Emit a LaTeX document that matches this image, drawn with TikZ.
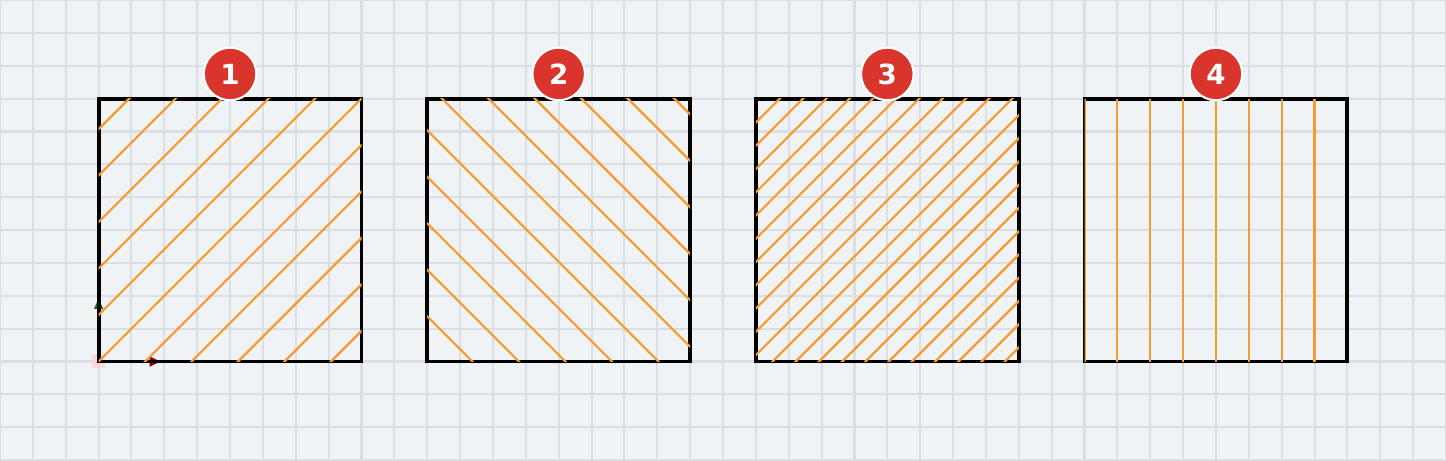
\documentclass[tikz,border=0pt]{standalone}
\usepackage{fontspec}
\newfontfamily\badgefont{DejaVu Sans}
\usetikzlibrary{positioning}

\definecolor{canvas}{RGB}{240,243,246}
\definecolor{gridgray}{RGB}{219,222,228}
\definecolor{hatchorange}{RGB}{246,155,45}
\definecolor{badgered}{RGB}{217,53,45}

\tikzset{
  gridline/.style={gridgray, line width=0.9pt},
  tile/.style={draw=black, line width=1.7pt, minimum size=4cm, inner sep=0pt, outer sep=0pt},
  hatch/.style={hatchorange, line width=0.95pt},
  badge/.style={circle, fill=badgered, draw=white, line width=0.9pt, minimum size=0.8cm,
                inner sep=0pt, text=white, font=\badgefont\bfseries\fontsize{12}{12}\selectfont}
}

\begin{document}
\begin{tikzpicture}[x=0.5cm, y=0.5cm]
  \useasboundingbox (0,0) rectangle (44,14);
  \fill[canvas] (0,0) rectangle (44,14);
  \draw[gridline, step=0.5cm] (0,0) grid (44,14);

  % origin marks of the editor
  \fill[pink!70!white, opacity=0.8] (2.8,2.8) rectangle (3.2,3.2);
  \fill[green!45!black] (2.86,4.6) -- (3.14,4.6) -- (3,4.92) -- cycle;
  \fill[red!55!black] (4.55,2.84) -- (4.55,3.16) -- (4.88,3) -- cycle;

  % the four tiles
  \node[tile] (sq1) at (7,7) {};
  \node[tile] (sq2) at (17,7) {};
  \node[tile] (sq3) at (27,7) {};
  \node[tile] (sq4) at (37,7) {};

  % 1: rising lines, wide
  \begin{scope}
    \clip (sq1.south west) rectangle (sq1.north east);
    \foreach \k in {-5,...,5}
      \draw[hatch] ([shift={(-1,{1.4142*\k-1})}]sq1.south west) -- ++(10,10);
  \end{scope}

  % 2: falling lines, wide
  \begin{scope}
    \clip (sq2.south west) rectangle (sq2.north east);
    \foreach \k in {-5,...,5}
      \draw[hatch] ([shift={(-1,{9.447+1.4142*\k})}]sq2.south west) -- ++(10,-10);
  \end{scope}

  % 3: rising lines, dense
  \begin{scope}
    \clip (sq3.south west) rectangle (sq3.north east);
    \foreach \k in {-11,...,10}
      \draw[hatch] ([shift={(-1,{0.2+0.7071*\k-1})}]sq3.south west) -- ++(10,10);
  \end{scope}

  % 4: upright lines
  \begin{scope}
    \clip (sq4.south west) rectangle (sq4.north east);
    \foreach \i in {0,...,7}
      \draw[hatch] ([xshift=\i*0.5cm]sq4.south west) -- ++(0,8);
  \end{scope}

  % numbers
  \node[badge] (n1) at ([yshift=0.375cm]sq1.north) {1};
  \node[badge] (n2) at ([yshift=0.375cm]sq2.north) {2};
  \node[badge] (n3) at ([yshift=0.375cm]sq3.north) {3};
  \node[badge] (n4) at ([yshift=0.375cm]sq4.north) {4};
\end{tikzpicture}
\end{document}
